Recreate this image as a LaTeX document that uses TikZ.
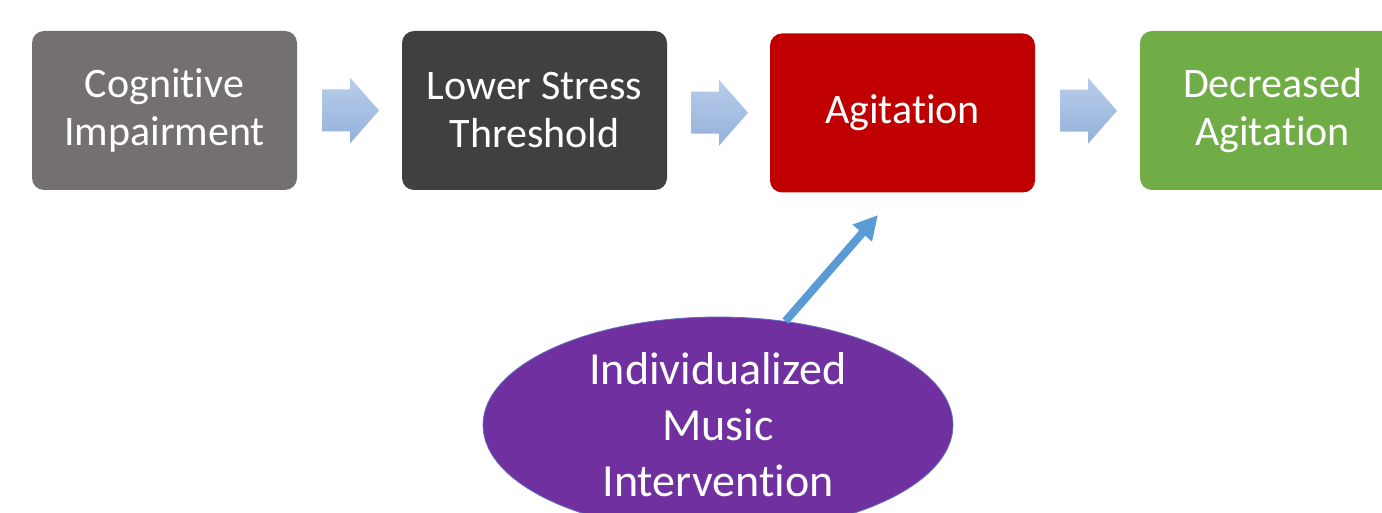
\documentclass[tikz,border=0pt]{standalone}
\usepackage{fontspec}
\setmainfont{Carlito}[Ligatures={NoCommon,NoContextual}]
\usetikzlibrary{shapes.geometric,arrows.meta,calc}
\definecolor{cgray}{HTML}{747070}
\definecolor{cdark}{HTML}{404040}
\definecolor{cred}{HTML}{C00000}
\definecolor{cgreen}{HTML}{70AD47}
\definecolor{cpurple}{HTML}{7030A0}
\definecolor{cblue}{HTML}{5B9BD5}
\definecolor{chevtop}{HTML}{BACDEA}
\definecolor{chevbot}{HTML}{93B1DB}
\tikzset{
  stagebox/.style={rounded corners=12pt, minimum width=265pt, minimum height=159pt,
    inner sep=0pt, align=center, text=white, font=\fontsize{42pt}{48pt}\selectfont},
  interv/.style={ellipse, fill=cpurple, draw=cblue!60!cpurple, line width=0.8pt,
    minimum width=470pt, minimum height=216pt, inner sep=0pt, align=center, text=white,
    font=\fontsize{46pt}{56pt}\selectfont},
  effect/.style={draw=cblue, line width=8pt, -{Triangle[length=24pt,width=24pt]}},
}
\newcommand{\chev}[1]{%
  \shade[top color=chevtop, bottom color=chevbot, shift={(#1)}]
    (-29pt,21pt) -- (-1pt,21pt) -- (-1pt,33pt) -- (28pt,0pt) -- (-1pt,-33pt)
    -- (-1pt,-21pt) -- (-29pt,-21pt) -- cycle;}
\begin{document}
\begin{tikzpicture}[x=1pt,y=1pt]
\useasboundingbox (0,0) rectangle (1382,-513);
\fill[white] (0,0) rectangle (1382,-513);
\node[stagebox, fill=cgray] (b1) at (164.5,-110.5) {Cognitive\\Impairment};
\node[stagebox, fill=cdark] (b2) at (534.5,-110.5) {Lower Stress\\Threshold};
\node[stagebox, fill=cred] (b3) at (902.5,-113) {Agitation};
\node[stagebox, fill=cgreen] (b4) at (1272.5,-110.5) {Decreased\\Agitation};
\path ($(b1.east)!0.5!(b2.west)$) ++(1.5,0) coordinate (m1);
\path ($(b2.east)!0.5!(b3.west)$) ++(1.5,-1) coordinate (m2);
\path ($(b3.east)!0.5!(b4.west)$) ++(1.5,1) coordinate (m3);
\chev{m1}
\chev{m2}
\chev{m3}
\node[interv] (mi) at (718,-425) {Individualized\\Music\\Intervention};
\coordinate (tip) at (878,-215);
\draw[effect] (mi.57) -- (tip);
\end{tikzpicture}
\end{document}
